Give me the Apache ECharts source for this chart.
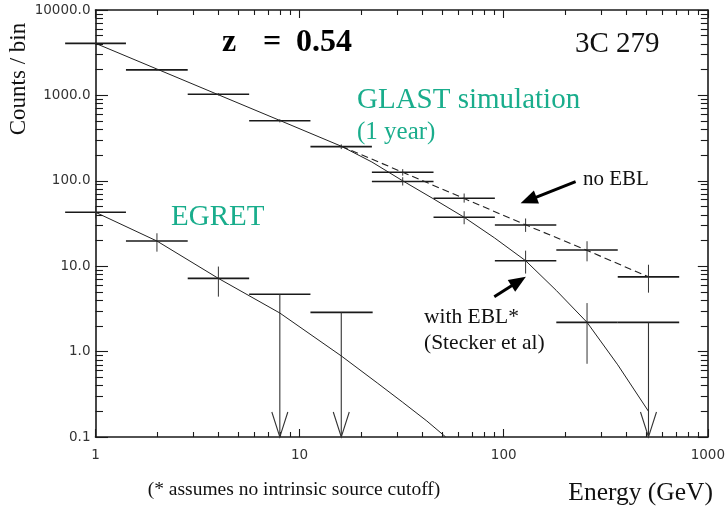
<!DOCTYPE html>
<html><head><meta charset="utf-8">
<script src="https://cdn.jsdelivr.net/npm/echarts@6/dist/echarts.min.js"></script>
<style>html,body{margin:0;padding:0;background:#fff}#c{width:728px;height:508px;background:#fff}</style>
</head><body><div id="c"></div>
<script>
// ---------------- data ----------------
const xTickLabels = ['1', '10', '100', '1000'];
const yTickLabels = ['0.1', '1.0', '10.0', '100.0', '1000.0', '10000.0'];

// energy bins (GeV): centre, lower edge, upper edge
const binCenters = [1, 2, 4, 8, 16, 32, 64, 128, 256, 512];
const binLow     = [0.71, 1.41, 2.83, 5.66, 11.3, 22.6, 45.3, 90.5, 181, 362];
const binHigh    = [1.41, 2.83, 5.66, 11.3, 22.6, 45.3, 90.5, 181, 362, 724];

// GLAST simulation, no EBL (counts/bin) with error limits
const glastNoEbl   = [4070, 1990, 1030, 505, 251, 126, 62.4, 30.4, 15.5, 7.5];
const glastNoEblLo = [4006, 1945, 998, 483, 235, 115, 55.5, 25.2, 11.4, 4.9];
const glastNoEblHi = [4134, 2035, 1062, 527, 267, 137, 71, 36.2, 19.6, 10.4];

// GLAST simulation, with EBL (bins 32..256), 512 GeV is an upper limit
const eblCenters = [32, 64, 128, 256];
const eblLow     = [22.6, 45.3, 90.5, 181];
const eblHigh    = [45.3, 90.5, 181, 362];
const glastEbl   = [98, 37.4, 11.6, 2.2];
const glastEblLo = [88, 31, 8.2, 0.72];
const glastEblHi = [110, 44, 15.2, 3.7];
const eblLimitCenters = [512];
const eblLimitLow = [362];
const eblLimitHigh = [724];
const eblLimit = [2.2];

// EGRET measured points and upper limits
const egretCenters = [1, 2, 4];
const egretLow  = [0.71, 1.41, 2.83];
const egretHigh = [1.41, 2.83, 5.66];
const egret   = [42.8, 19.7, 7.2];
const egretLo = [36.3, 14.8, 4.4];
const egretHi = [49.3, 24.3, 9.9];
const egretLimitCenters = [8, 16];
const egretLimitLow  = [5.66, 11.3];
const egretLimitHigh = [11.3, 22.8];
const egretLimit = [4.7, 2.88];

// model curves
const egretModelE = [1, 2, 4, 8, 16, 24, 32, 42, 52];
const egretModel  = [42.8, 19.7, 7.2, 2.83, 0.89, 0.43, 0.255, 0.154, 0.1];
const eblModelE = [1, 2, 4, 8, 16, 22.6, 32, 45, 64, 90, 128, 181, 256, 362, 512];
const eblModel  = [4070, 2035, 1017, 509, 254, 166, 100, 62, 37.4, 21.5, 11.6, 5.2, 2.2, 0.7, 0.2];
const noEblModelE = [16, 32, 64, 128, 256, 512];
const noEblModel  = [254, 126, 62, 30.5, 15.3, 7.5];

// annotation arrows (data coordinates): from -> to
const arrowFrom = [[225, 97.6], [89.9, 4.4]];
const arrowTo   = [[121, 54.6], [128.4, 7.5]];

// tick positions for the log axes
const majorX = [1, 10, 100, 1000];
const majorY = [0.1, 1, 10, 100, 1000, 10000];
const minorX = [2, 3, 4, 5, 6, 7, 8, 9, 20, 30, 40, 50, 60, 70, 80, 90, 200, 300, 400, 500, 600, 700, 800, 900];
const minorY = [0.2, 0.3, 0.4, 0.5, 0.6, 0.7, 0.8, 0.9, 2, 3, 4, 5, 6, 7, 8, 9, 20, 30, 40, 50, 60, 70, 80, 90,
                200, 300, 400, 500, 600, 700, 800, 900, 2000, 3000, 4000, 5000, 6000, 7000, 8000, 9000];

// ---------------- chart ----------------
const INK = '#1a1a1a';
const TEAL = '#19ad8c';
const SERIF = 'Liberation Serif';
const chart = echarts.init(document.getElementById('c'));

function zip(...arrs) { return arrs[0].map((_, i) => arrs.map(a => a[i])); }

const pointsRender = function (params, api) {
  const xc = api.value(0), y = api.value(1), lo = api.value(2), hi = api.value(3),
        xl = api.value(4), xh = api.value(5);
  const a = api.coord([xl, y]), b = api.coord([xh, y]);
  const t = api.coord([xc, hi]), u = api.coord([xc, lo]);
  return {type: 'group', children: [
    {type: 'line', shape: {x1: a[0], y1: a[1], x2: b[0], y2: b[1]}, style: {stroke: INK, lineWidth: 1.6}},
    {type: 'line', shape: {x1: t[0], y1: t[1], x2: u[0], y2: u[1]}, style: {stroke: '#333', lineWidth: 1}}
  ]};
};

const limitRender = function (params, api) {
  const xc = api.value(0), y = api.value(1), xl = api.value(2), xh = api.value(3);
  const a = api.coord([xl, y]), b = api.coord([xh, y]);
  const t = api.coord([xc, y]), u = api.coord([xc, 0.1]);
  return {type: 'group', children: [
    {type: 'line', shape: {x1: a[0], y1: a[1], x2: b[0], y2: b[1]}, style: {stroke: INK, lineWidth: 1.6}},
    {type: 'line', shape: {x1: t[0], y1: t[1], x2: u[0], y2: u[1]}, style: {stroke: '#333', lineWidth: 1.1}},
    {type: 'polyline', shape: {points: [[u[0] - 8, u[1] - 25], [u[0], u[1]], [u[0] + 8, u[1] - 25]]},
      style: {stroke: '#333', lineWidth: 1.1, fill: null}}
  ]};
};

const arrowRender = function (params, api) {
  const p = api.coord([api.value(0), api.value(1)]);
  const q = api.coord([api.value(2), api.value(3)]);
  const dx = q[0] - p[0], dy = q[1] - p[1];
  const len = Math.sqrt(dx * dx + dy * dy);
  const ux = dx / len, uy = dy / len;
  const hl = 17, hw = 7;
  const bx = q[0] - ux * hl, by = q[1] - uy * hl;
  return {type: 'group', children: [
    {type: 'line', shape: {x1: p[0], y1: p[1], x2: bx + ux * 2, y2: by + uy * 2}, style: {stroke: '#000', lineWidth: 3}},
    {type: 'polygon', shape: {points: [[q[0], q[1]], [bx - uy * hw, by + ux * hw], [bx + uy * hw, by - ux * hw]]},
      style: {fill: '#000'}}
  ]};
};

const lab = {fontFamily: 'DejaVu Sans', fontSize: 13.5, color: '#333'};
function xAx(pos, showLine, len, ticks, labels) {
  return {type: 'log', logBase: 10, min: 1, max: 1000, position: pos,
    axisLine: {show: showLine, onZero: false, lineStyle: {color: INK, width: 1.6}},
    axisTick: {show: true, inside: true, length: len, customValues: ticks, lineStyle: {color: INK, width: 1.1}},
    axisLabel: labels ? Object.assign({margin: 11, formatter: v => xTickLabels[Math.round(Math.log10(v))]}, lab) : {show: false},
    splitLine: {show: false}, axisPointer: {show: false}};
}
function yAx(pos, showLine, len, ticks, labels) {
  return {type: 'log', logBase: 10, min: 0.1, max: 10000, position: pos,
    axisLine: {show: showLine, onZero: false, lineStyle: {color: INK, width: 1.6}},
    axisTick: {show: true, inside: true, length: len, customValues: ticks, lineStyle: {color: INK, width: 1.1}},
    axisLabel: labels ? Object.assign({margin: 5, formatter: v => yTickLabels[Math.round(Math.log10(v)) + 1]}, lab) : {show: false},
    splitLine: {show: false}, axisPointer: {show: false}};
}
// dummy (invisible) series so that the frame/minor-tick axes are laid out
function anchor(i) {
  return {type: 'line', name: 'axis' + i, xAxisIndex: i, yAxisIndex: i, data: [[1, 1], [1000, 10000]],
          showSymbol: false, symbol: 'none', silent: true, lineStyle: {opacity: 0, width: 0}};
}

const txt = (x, y, text, size, extra) => ({type: 'text', x: x, y: y,
  style: Object.assign({text: text, fontFamily: SERIF, fontSize: size, fill: '#111', align: 'left', verticalAlign: 'middle'}, extra || {})});
const texts = [
  Object.assign(txt(19, 79, 'Counts / bin', 23, {align: 'center'}), {rotation: Math.PI / 2}),
  txt(222, 43, 'z', 32, {fontWeight: 'bold', fill: '#000'}),
  txt(272, 43, '=', 32, {fontWeight: 'bold', fill: '#000', align: 'center'}),
  txt(296, 43, '0.54', 32, {fontWeight: 'bold', fill: '#000'}),
  txt(575, 44, '3C 279', 29),
  txt(357, 100, 'GLAST simulation', 29, {fill: TEAL}),
  txt(357, 132, '(1 year)', 25, {fill: TEAL}),
  txt(171, 217, 'EGRET', 29, {fill: TEAL}),
  txt(583, 179, 'no EBL', 21),
  txt(424, 317, 'with EBL*', 21.5),
  txt(424, 343, '(Stecker et al)', 21.5),
  txt(294, 490, '(* assumes no intrinsic source cutoff)', 19.5, {align: 'center'}),
  txt(713, 493, 'Energy (GeV)', 25.5, {align: 'right'})
];

chart.setOption({
  animation: false,
  grid: {left: 95.5, right: 19, top: 10, bottom: 71},
  xAxis: [
    xAx('bottom', true, 8, majorX, true),
    xAx('top', true, 8, majorX, false),
    xAx('bottom', false, 5, minorX, false),
    xAx('top', false, 5, minorX, false)
  ],
  yAxis: [
    yAx('left', true, 12.5, majorY, true),
    yAx('right', true, 10, majorY, false),
    yAx('left', false, 7.5, minorY, false),
    yAx('right', false, 7, minorY, false)
  ],
  series: [
    anchor(1), anchor(2), anchor(3),
    {type: 'line', name: 'EGRET model', data: zip(egretModelE, egretModel), showSymbol: false, symbol: 'none',
     lineStyle: {color: '#222', width: 1}},
    {type: 'line', name: 'GLAST with EBL', data: zip(eblModelE, eblModel), showSymbol: false, symbol: 'none',
     lineStyle: {color: '#222', width: 1}},
    {type: 'line', name: 'GLAST no EBL', data: zip(noEblModelE, noEblModel), showSymbol: false, symbol: 'none',
     lineStyle: {color: '#222', width: 1.1, type: [7, 4]}},
    {type: 'custom', name: 'GLAST no EBL points', renderItem: pointsRender, clip: false, encode: {x: 0, y: 1},
     data: zip(binCenters, glastNoEbl, glastNoEblLo, glastNoEblHi, binLow, binHigh)},
    {type: 'custom', name: 'GLAST EBL points', renderItem: pointsRender, clip: false, encode: {x: 0, y: 1},
     data: zip(eblCenters, glastEbl, glastEblLo, glastEblHi, eblLow, eblHigh)},
    {type: 'custom', name: 'GLAST EBL limit', renderItem: limitRender, clip: false, encode: {x: 0, y: 1},
     data: zip(eblLimitCenters, eblLimit, eblLimitLow, eblLimitHigh)},
    {type: 'custom', name: 'EGRET points', renderItem: pointsRender, clip: false, encode: {x: 0, y: 1},
     data: zip(egretCenters, egret, egretLo, egretHi, egretLow, egretHigh)},
    {type: 'custom', name: 'EGRET limits', renderItem: limitRender, clip: false, encode: {x: 0, y: 1},
     data: zip(egretLimitCenters, egretLimit, egretLimitLow, egretLimitHigh)},
    {type: 'custom', name: 'annotation arrows', renderItem: arrowRender, clip: false, encode: {x: 0, y: 1},
     data: arrowFrom.map((f, i) => [f[0], f[1], arrowTo[i][0], arrowTo[i][1]])}
  ],
  graphic: texts
});
</script>
</body></html>
